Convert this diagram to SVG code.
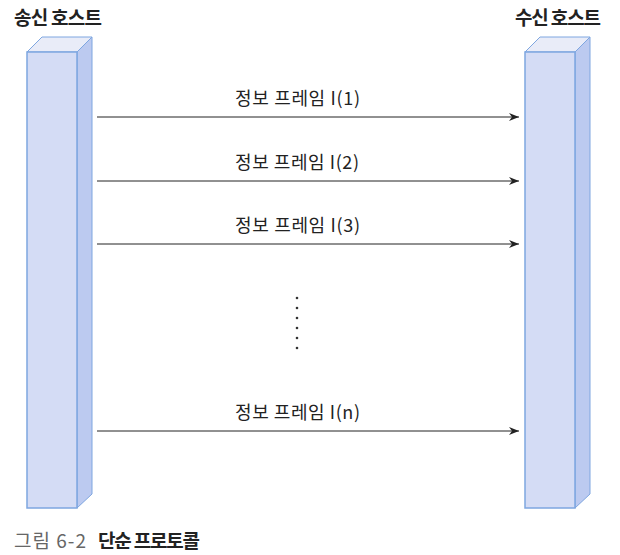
<svg xmlns="http://www.w3.org/2000/svg" width="620" height="555" viewBox="0 0 620 555">
<defs>
<style>
.t{font-family:"Noto Sans CJK KR","Noto Sans",sans-serif;font-size:18px;fill:#222}
.h{font-family:"Noto Sans CJK KR","Noto Sans",sans-serif;font-size:19px;font-weight:bold;fill:#222}
.c{font-family:"Noto Sans CJK KR","Noto Sans",sans-serif;font-size:19px}
.front{fill:#d4dcf5;stroke:#7ea6e0;stroke-width:1.5}
.side{fill:#bccaf0;stroke:#7ea6e0;stroke-width:1}
.top{fill:#e9ecf8;stroke:#7ea6e0;stroke-width:1}
.ln{stroke:#222;stroke-width:1;fill:none}
</style>
<marker id="ah" viewBox="0 0 10 10" refX="10" refY="5" markerWidth="10" markerHeight="10" markerUnits="userSpaceOnUse" orient="auto">
<path d="M0,1 L10,5 L0,9 L3,5 Z" fill="#222"/>
</marker>
</defs>
<rect width="620" height="555" fill="#fff"/>
<g id="sender">
<polygon class="top" points="27,52 42,37 92,37 77,52"/>
<polygon class="side" points="77,52 92,37 92,494 77,508"/>
<rect class="front" x="27" y="52" width="50" height="456"/>
<text class="h" x="14" y="25" textLength="88" lengthAdjust="spacing">송신 호스트</text>
</g>
<g id="receiver">
<polygon class="top" points="525,52 540,37 590,37 575,52"/>
<polygon class="side" points="575,52 590,37 590,494 575,508"/>
<rect class="front" x="525" y="52" width="50" height="456"/>
<text class="h" x="515" y="25" textLength="86" lengthAdjust="spacing">수신 호스트</text>
</g>
<g id="connectors">
<line class="ln" x1="97" y1="117" x2="519" y2="117" marker-end="url(#ah)"/>
<line class="ln" x1="97" y1="181" x2="519" y2="181" marker-end="url(#ah)"/>
<line class="ln" x1="97" y1="244" x2="519" y2="244" marker-end="url(#ah)"/>
<line class="ln" x1="97" y1="431" x2="519" y2="431" marker-end="url(#ah)"/>
</g>
<g id="labels">
<text class="t" x="235" y="105" textLength="125" lengthAdjust="spacing">정보 프레임 I(1)</text>
<text class="t" x="235" y="169" textLength="124" lengthAdjust="spacing">정보 프레임 I(2)</text>
<text class="t" x="235" y="232" textLength="125" lengthAdjust="spacing">정보 프레임 I(3)</text>
<text class="t" x="235" y="419" textLength="125" lengthAdjust="spacing">정보 프레임 I(n)</text>
</g>
<g id="dots" fill="#333">
<circle cx="297" cy="298" r="1.3"/>
<circle cx="297" cy="308" r="1.3"/>
<circle cx="297" cy="318" r="1.3"/>
<circle cx="297" cy="328" r="1.3"/>
<circle cx="297" cy="338" r="1.3"/>
<circle cx="297" cy="348" r="1.3"/>
</g>
<g id="caption">
<text class="c" x="14" y="548" fill="#666" textLength="72" lengthAdjust="spacing">그림 6-2</text>
<text class="c" x="98" y="548" fill="#222" font-weight="bold" textLength="102" lengthAdjust="spacing">단순 프로토콜</text>
</g>
</svg>
